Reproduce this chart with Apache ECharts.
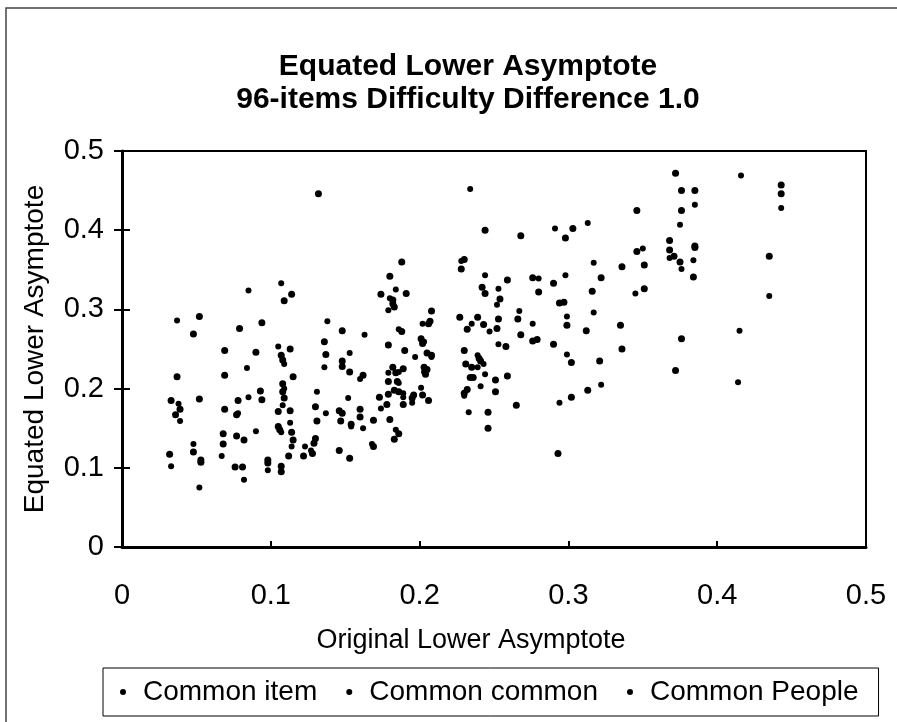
<!DOCTYPE html>
<html>
<head>
<meta charset="utf-8">
<script src="https://cdn.jsdelivr.net/npm/echarts@6/dist/echarts.min.js"></script>
<style>
html,body{margin:0;padding:0;background:#fff;}
#chart{width:897px;height:722px;}
</style>
</head>
<body>
<div id="chart"></div>
<script>
// ---- Data ----
var titleLines = ['Equated Lower Asymptote', '96-items Difficulty Difference 1.0'];
var xAxisName = 'Original Lower Asymptote';
var yAxisName = 'Equated Lower Asymptote';
var seriesNames = ['Common item', 'Common common', 'Common People'];

var commonItem = [
[0.132,0.446],[0.048,0.269],[0.094,0.283],[0.114,0.319],[0.148,0.273],[0.090,0.246],[0.108,0.236],[0.137,0.243],
[0.148,0.228],[0.162,0.217],[0.033,0.185],[0.036,0.167],[0.069,0.217],[0.094,0.186],[0.069,0.174],[0.108,0.206],
[0.109,0.188],[0.113,0.172],[0.106,0.148],[0.115,0.135],[0.115,0.215],[0.131,0.159],[0.129,0.131],[0.128,0.118],
[0.148,0.169],[0.154,0.155],[0.160,0.164],[0.153,0.112],[0.032,0.117],[0.053,0.107],[0.068,0.130],[0.082,0.135],
[0.081,0.101],[0.098,0.106],[0.107,0.095],[0.268,0.393],[0.303,0.402],[0.180,0.342],[0.191,0.320],[0.183,0.303],
[0.208,0.298],[0.207,0.285],[0.201,0.263],[0.179,0.255],[0.228,0.351],[0.244,0.320],[0.254,0.313],[0.239,0.290],
[0.243,0.281],[0.252,0.276],[0.268,0.268],[0.279,0.262],[0.276,0.340],[0.290,0.333],[0.297,0.309],[0.290,0.256],
[0.316,0.323],[0.190,0.248],[0.208,0.242],[0.205,0.224],[0.182,0.227],[0.184,0.220],[0.185,0.209],[0.186,0.196],
[0.173,0.189],[0.196,0.192],[0.206,0.185],[0.178,0.180],[0.180,0.161],[0.183,0.136],[0.230,0.248],[0.241,0.235],
[0.235,0.227],[0.236,0.214],[0.259,0.216],[0.230,0.194],[0.265,0.179],[0.246,0.150],[0.321,0.235],[0.302,0.189],
[0.372,0.472],[0.443,0.446],[0.385,0.450],[0.346,0.425],[0.368,0.375],[0.375,0.360],[0.385,0.378],[0.346,0.373],
[0.336,0.354],[0.435,0.367],[0.376,0.263],[0.372,0.223]
];
var commonCommon = [
[0.037,0.286],[0.085,0.324],[0.107,0.333],[0.138,0.285],[0.163,0.268],[0.105,0.253],[0.109,0.231],[0.136,0.227],
[0.153,0.245],[0.160,0.212],[0.038,0.181],[0.039,0.159],[0.084,0.226],[0.085,0.189],[0.078,0.169],[0.109,0.200],
[0.108,0.179],[0.113,0.157],[0.107,0.145],[0.114,0.127],[0.131,0.196],[0.137,0.169],[0.123,0.127],[0.127,0.122],
[0.152,0.188],[0.154,0.152],[0.162,0.150],[0.048,0.130],[0.033,0.102],[0.052,0.075],[0.067,0.115],[0.090,0.146],
[0.082,0.085],[0.098,0.097],[0.234,0.452],[0.291,0.402],[0.313,0.409],[0.184,0.325],[0.180,0.314],[0.179,0.299],
[0.202,0.282],[0.186,0.275],[0.203,0.259],[0.228,0.361],[0.244,0.343],[0.253,0.326],[0.252,0.306],[0.235,0.282],
[0.247,0.272],[0.267,0.298],[0.276,0.282],[0.253,0.256],[0.280,0.339],[0.298,0.343],[0.299,0.291],[0.317,0.359],
[0.317,0.296],[0.197,0.240],[0.208,0.240],[0.203,0.221],[0.186,0.221],[0.179,0.220],[0.186,0.207],[0.189,0.194],
[0.189,0.189],[0.201,0.201],[0.195,0.182],[0.174,0.175],[0.184,0.148],[0.168,0.130],[0.239,0.242],[0.243,0.231],
[0.239,0.227],[0.244,0.218],[0.241,0.203],[0.230,0.191],[0.233,0.170],[0.299,0.243],[0.322,0.205],[0.294,0.182],
[0.416,0.469],[0.443,0.428],[0.385,0.432],[0.375,0.407],[0.368,0.365],[0.376,0.351],[0.384,0.362],[0.350,0.377],
[0.345,0.320],[0.435,0.317],[0.415,0.273],[0.414,0.208]
];
var commonPeople = [
[0.052,0.291],[0.079,0.276],[0.109,0.311],[0.136,0.259],[0.069,0.248],[0.107,0.242],[0.113,0.250],[0.148,0.235],
[0.153,0.221],[0.037,0.215],[0.039,0.174],[0.052,0.187],[0.093,0.197],[0.078,0.185],[0.077,0.167],[0.108,0.196],
[0.105,0.171],[0.105,0.152],[0.114,0.145],[0.112,0.115],[0.130,0.177],[0.130,0.137],[0.122,0.115],[0.146,0.172],
[0.147,0.159],[0.160,0.174],[0.146,0.122],[0.048,0.120],[0.053,0.110],[0.068,0.143],[0.077,0.140],[0.076,0.101],
[0.098,0.110],[0.107,0.102],[0.244,0.400],[0.298,0.390],[0.188,0.360],[0.174,0.319],[0.182,0.312],[0.182,0.307],
[0.206,0.282],[0.188,0.272],[0.202,0.257],[0.230,0.363],[0.242,0.328],[0.259,0.337],[0.227,0.290],[0.232,0.275],
[0.253,0.288],[0.266,0.288],[0.276,0.260],[0.258,0.253],[0.280,0.322],[0.294,0.308],[0.299,0.280],[0.322,0.340],
[0.312,0.273],[0.205,0.245],[0.203,0.227],[0.204,0.218],[0.189,0.225],[0.179,0.209],[0.183,0.198],[0.179,0.193],
[0.195,0.188],[0.202,0.192],[0.189,0.180],[0.169,0.160],[0.186,0.143],[0.169,0.127],[0.240,0.238],[0.231,0.231],
[0.234,0.214],[0.251,0.211],[0.232,0.199],[0.251,0.196],[0.246,0.170],[0.302,0.233],[0.313,0.198],[0.293,0.118],
[0.443,0.457],[0.376,0.450],[0.376,0.425],[0.368,0.387],[0.371,0.367],[0.385,0.380],[0.384,0.341],[0.351,0.356],
[0.351,0.326],[0.335,0.280],[0.336,0.250]
];

// ---- Chart ----
var FONT = '"Liberation Sans", Arial, Helvetica, sans-serif';
var chart = echarts.init(document.getElementById('chart'), null, {renderer: 'canvas'});

function scatter(name, data, size) {
  return {
    name: name, type: 'scatter', data: data,
    symbol: 'circle', symbolSize: size,
    itemStyle: {color: '#000', opacity: 1},
    xAxisIndex: 0, yAxisIndex: 0,
    emphasis: {disabled: true},
    animation: false
  };
}

var option = {
  backgroundColor: '#fff',
  animation: false,
  graphic: [
    {type: 'rect', z: -10, shape: {x: 6, y: 8, width: 900, height: 720},
     style: {fill: 'none', stroke: '#444', lineWidth: 1.5}},
    {type: 'text', style: {x: 468, y: 67, text: titleLines[0], textAlign: 'center', textVerticalAlign: 'middle',
      font: 'bold 30px ' + FONT, fill: '#000'}},
    {type: 'text', style: {x: 468, y: 100, text: titleLines[1], textAlign: 'center', textVerticalAlign: 'middle',
      font: 'bold 30px ' + FONT, fill: '#000'}}
  ],
  grid: {left: 122, right: 31, top: 151, bottom: 175, show: true, borderColor: '#000', borderWidth: 2,
         backgroundColor: '#fff'},
  legend: {
    data: seriesNames,
    left: 103, top: 668,
    padding: [10, 20, 10, 17],
    itemWidth: 30, itemHeight: 6, itemGap: 29,
    icon: 'circle',
    borderColor: '#000', borderWidth: 1,
    textStyle: {fontSize: 28, color: '#000', fontFamily: FONT},
    selectedMode: false
  },
  xAxis: [{
    type: 'value', min: 0, max: 0.5, interval: 0.1,
    name: xAxisName, nameLocation: 'middle', nameGap: 80,
    nameTextStyle: {fontSize: 27, color: '#000', fontFamily: FONT, padding: [0, 46, 0, 0]},
    axisLine: {show: true, onZero: false, lineStyle: {color: '#000', width: 3}},
    axisTick: {show: true, inside: true, length: 6, lineStyle: {color: '#000', width: 2}},
    axisLabel: {fontSize: 29, color: '#000', fontFamily: FONT, margin: 34},
    splitLine: {show: false}
  }],
  yAxis: [{
    type: 'value', min: 0, max: 0.5, interval: 0.1,
    name: yAxisName, nameLocation: 'middle', nameGap: 73, nameRotate: 90,
    nameTextStyle: {fontSize: 28, color: '#000', fontFamily: FONT},
    axisLine: {show: true, onZero: false, lineStyle: {color: '#000', width: 3}},
    axisTick: {show: true, inside: false, length: 8, lineStyle: {color: '#000', width: 2}},
    axisLabel: {fontSize: 29, color: '#000', fontFamily: FONT, margin: 18},
    splitLine: {show: false}
  }, {
    type: 'value', min: 0, max: 0.5, interval: 0.1, position: 'left',
    axisLine: {show: false},
    axisTick: {show: true, inside: true, length: 8, lineStyle: {color: '#000', width: 2}},
    axisLabel: {show: false},
    splitLine: {show: false}
  }],
  series: [
    scatter(seriesNames[0], commonItem, 7),
    scatter(seriesNames[1], commonCommon, 6),
    scatter(seriesNames[2], commonPeople, 7)
  ]
};
chart.setOption(option);
</script>
</body>
</html>
